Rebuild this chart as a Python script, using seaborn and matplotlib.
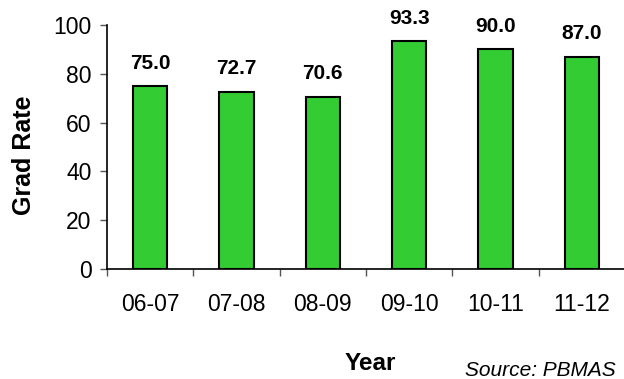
"""Graduation rate by school year, bar chart."""
import matplotlib
matplotlib.use("Agg")
import matplotlib.pyplot as plt
import seaborn as sns
import pandas as pd
import numpy as np

years = ["06-07", "07-08", "08-09", "09-10", "10-11", "11-12"]
grad_rate = [75.0, 72.7, 70.6, 93.3, 90.0, 87.0]

sns.set_style("white", {'text.color': 'black', 'axes.labelcolor': 'black',
                        'xtick.color': 'black', 'ytick.color': 'black'})
plt.rcParams['font.family'] = ['Liberation Sans', 'DejaVu Sans']

df = pd.DataFrame({'year': years, 'rate': grad_rate})

fig = plt.figure(figsize=(6.24, 3.79), dpi=100)
ax = fig.add_axes([107 / 624, 110 / 379, 518 / 624, 244 / 379])

sns.barplot(data=df, x='year', y='rate', color='#33CC33', saturation=1,
            width=0.4, edgecolor='black', linewidth=1.5, ax=ax)

for i, v in enumerate(grad_rate):
    ax.annotate(f"{v:.1f}", (i, v), xytext=(0, 16.5), textcoords='offset points',
                ha='center', va='center', fontsize=15, fontweight='bold', color='black')

ax.set_ylim(0, 100)
ax.set_xlim(-0.5, 5.5)
ax.set_yticks(range(0, 101, 20))
ax.tick_params(axis='y', left=True, labelsize=16.5, length=5, width=1,
               color='#555555', labelcolor='black', pad=6)
ax.tick_params(axis='x', which='major', bottom=False, labelsize=16.5,
               labelcolor='black', pad=14)
ax.set_xticks(np.arange(-0.5, 6, 1), minor=True)
ax.tick_params(axis='x', which='minor', bottom=True, length=5, width=1, color='#555555')

for side in ['top', 'right']:
    ax.spines[side].set_visible(False)
for side in ['left', 'bottom']:
    ax.spines[side].set_color('black')
    ax.spines[side].set_linewidth(1.2)

ax.set_xlabel('')
ax.set_ylabel('')
fig.text(24 / 624, 1 - 155 / 379, 'Grad Rate', rotation=90, ha='center', va='center',
         fontsize=18, fontweight='bold', color='black')
fig.text(370 / 624, 1 - 363 / 379, 'Year', ha='center', va='center',
         fontsize=17.5, fontweight='bold', color='black')
fig.text(465 / 624, 3 / 379, 'Source: PBMAS', ha='left', va='baseline',
         fontsize=15, fontstyle='italic', color='black')

fig.savefig('out.png', dpi=100)
